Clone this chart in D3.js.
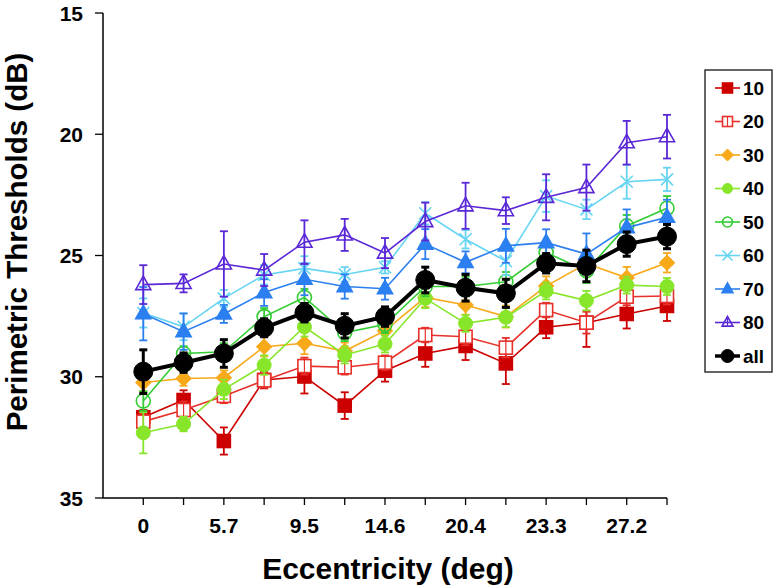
<!DOCTYPE html>
<html><head><meta charset="utf-8">
<script src="https://cdn.jsdelivr.net/npm/d3@7"></script>
<style>body{margin:0;background:#fff}svg{display:block}</style>
</head><body>
<svg id="c" width="776" height="587"></svg>
<script>
const xLabels = ["0","","5.7","","9.5","","14.6","","20.4","","23.3","","27.2",""];
const yTicks = [15,20,25,30,35];
const seriesNames = ["10","20","30","40","50","60","70","80","all"];
const s10  = [31.67,30.96,32.65,30.13,29.99,31.19,29.75,29.04,28.73,29.45,27.96,27.77,27.41,27.08];
const e10  = [0.3,0.4,0.56,0.35,0.7,0.55,0.45,0.55,0.58,0.85,0.45,1.0,0.6,0.62];
const s20  = [31.85,31.37,30.79,30.15,29.56,29.61,29.42,28.28,28.35,28.8,27.25,27.77,26.7,26.67];
const e20  = [0.35,0.35,0.3,0.3,0.35,0.3,0.3,0.3,0.35,0.4,0.3,0.45,0.35,0.35];
const s30  = [30.24,30.07,30.04,28.76,28.62,28.94,28.1,26.73,27.04,27.52,26.26,25.33,25.92,25.3];
const e30  = [0.35,0.3,0.3,0.4,0.45,0.35,0.35,0.4,0.4,0.45,0.4,0.5,0.45,0.4];
const s40  = [32.31,31.95,30.52,29.52,27.94,29.1,28.65,26.77,27.8,27.55,26.46,26.86,26.22,26.28];
const e40  = [0.85,0.3,0.4,0.4,0.4,0.35,0.35,0.4,0.35,0.4,0.35,0.4,0.35,0.35];
const s50  = [31.0,29.04,28.97,27.52,26.73,28.18,27.85,26.28,26.28,26.08,24.88,25.63,23.78,23.05];
const e50  = [0.4,0.3,0.35,0.35,0.35,0.35,0.35,0.4,0.4,0.4,0.4,0.5,0.45,0.5];
const s60  = [27.37,27.94,26.77,25.8,25.53,25.78,25.49,23.26,24.33,25.23,22.55,23.1,21.96,21.86];
const e60  = [0.6,0.55,0.35,0.4,0.5,0.3,0.25,0.46,0.38,0.58,0.65,0.4,0.7,0.48];
const s70  = [27.4,28.14,27.41,26.53,25.98,26.28,26.37,24.53,25.28,24.6,24.47,24.94,23.85,23.42];
const e70  = [1.1,0.75,0.37,0.55,0.66,0.5,0.45,0.62,0.45,0.7,0.55,0.85,0.75,0.72];
const s80  = [26.2,26.15,25.35,25.6,24.45,24.15,24.9,23.6,22.95,23.15,22.6,22.2,20.35,20.1];
const e80  = [0.8,0.37,1.35,0.66,0.9,0.66,0.62,0.78,0.95,0.55,0.95,0.95,0.9,0.9];
const sAll = [29.79,29.42,29.04,27.98,27.36,27.9,27.52,26.01,26.33,26.56,25.32,25.43,24.53,24.22];
const eAll = [0.9,0.4,0.57,0.37,0.38,0.5,0.4,0.53,0.55,0.58,0.4,0.65,0.5,0.5];

const colors = ["#cc0000","#e8302a","#f7a91a","#88e62a","#33cc33","#66d4f2","#2b7ff0","#5a28d6","#000000"];
const shapes = ["square","squareOpen","diamond","circle","circleOpen","cross","triangle","triangleOpen","circleBig"];
const values = [s10,s20,s30,s40,s50,s60,s70,s80,sAll];
const errors = [e10,e20,e30,e40,e50,e60,e70,e80,eAll];

const FONT = "Arial,'Liberation Sans',Helvetica,sans-serif";
const svg = d3.select("#c");
const x = d3.scaleLinear().domain([0,14]).range([103,667]);
const y = d3.scaleLinear().domain([15,35]).range([13,498]);

// axes
const gx = svg.append("g").attr("transform","translate(0,498)");
gx.append("line").attr("x1",x(0)).attr("x2",x(14)).attr("stroke","#000").attr("stroke-width",1.5);
d3.range(1,15).forEach(i=>{
  gx.append("line").attr("x1",x(i)).attr("x2",x(i)).attr("y1",0).attr("y2",7).attr("stroke","#000").attr("stroke-width",1.3);
  if (xLabels[i-1]) gx.append("text").attr("x",x(i)).attr("y",35).attr("text-anchor","middle")
    .attr("font-family",FONT).attr("font-weight","bold").attr("font-size",21)
    .text(xLabels[i-1]);
});
const gy = svg.append("g").attr("transform","translate(103,0)");
gy.append("line").attr("y1",y(15)).attr("y2",y(35)).attr("stroke","#000").attr("stroke-width",1.5);
yTicks.forEach(t=>{
  gy.append("line").attr("x1",-8).attr("x2",0).attr("y1",y(t)).attr("y2",y(t)).attr("stroke","#000").attr("stroke-width",1.3);
  gy.append("text").attr("x",-20).attr("y",y(t)).attr("dy","0.36em").attr("text-anchor","end")
    .attr("font-family",FONT).attr("font-weight","bold").attr("font-size",21)
    .text(t);
});
svg.append("text").attr("transform","translate(27,242) rotate(-90)").attr("text-anchor","middle")
  .attr("font-family",FONT).attr("font-weight","bold").attr("font-size",29.5)
  .text("Perimetric Thresholds (dB)");
svg.append("text").attr("x",388).attr("y",579).attr("text-anchor","middle")
  .attr("font-family",FONT).attr("font-weight","bold").attr("font-size",30)
  .text("Eccentricity (deg)");

function drawMarker(g, shape, color, cx, cy, s) {
  const sw = 1.6;
  if (shape==="square" || shape==="squareOpen") {
    g.append("rect").attr("x",cx-s/2).attr("y",cy-s/2).attr("width",s).attr("height",s)
      .attr("fill", shape==="square"?color:"#fff").attr("stroke",color).attr("stroke-width",sw);
    if (shape==="squareOpen") g.append("line").attr("x1",cx).attr("x2",cx).attr("y1",cy-s/2).attr("y2",cy+s/2).attr("stroke",color).attr("stroke-width",1.2);
  } else if (shape==="diamond") {
    const r = s*0.6;
    g.append("path").attr("d",`M${cx},${cy-r}L${cx+r},${cy}L${cx},${cy+r}L${cx-r},${cy}Z`).attr("fill",color).attr("stroke",color);
  } else if (shape==="circle" || shape==="circleBig") {
    g.append("circle").attr("cx",cx).attr("cy",cy).attr("r",s/2).attr("fill",color).attr("stroke",color);
  } else if (shape==="circleOpen") {
    g.append("circle").attr("cx",cx).attr("cy",cy).attr("r",s/2).attr("fill","#fff").attr("fill-opacity",0).attr("stroke",color).attr("stroke-width",sw);
  } else if (shape==="cross") {
    const r = s/2;
    g.append("path").attr("d",`M${cx-r},${cy-r}L${cx+r},${cy+r}M${cx-r},${cy+r}L${cx+r},${cy-r}`).attr("stroke",color).attr("stroke-width",1.6);
  } else if (shape==="triangle" || shape==="triangleOpen") {
    const r = s*0.6;
    g.append("path").attr("d",`M${cx},${cy-r}L${cx+r*0.9},${cy+r*0.6}L${cx-r*0.9},${cy+r*0.6}Z`)
      .attr("fill", shape==="triangle"?color:"none").attr("stroke",color).attr("stroke-width",sw);
    if (shape==="triangleOpen") g.append("line").attr("x1",cx).attr("x2",cx).attr("y1",cy-r).attr("y2",cy+r*0.6).attr("stroke",color).attr("stroke-width",1.2);
  }
}
const markerSize = [13,13,13,14,14,12,14,14,19];

seriesNames.forEach((name,k)=>{
  const g = svg.append("g");
  const c = colors[k], isAll = name==="all";
  const vals = values[k], errs = errors[k];
  vals.forEach((v,i)=>{
    const cx = x(i+1), e = errs[i];
    g.append("line").attr("x1",cx).attr("x2",cx).attr("y1",y(v-e)).attr("y2",y(v+e)).attr("stroke",c).attr("stroke-width",isAll?3:1.8);
    [v-e,v+e].forEach(t=>g.append("line").attr("x1",cx-4).attr("x2",cx+4).attr("y1",y(t)).attr("y2",y(t)).attr("stroke",c).attr("stroke-width",isAll?3:1.8));
  });
  const line = d3.line().x((d,i)=>x(i+1)).y(d=>y(d));
  g.append("path").datum(vals).attr("d",line).attr("fill","none").attr("stroke",c).attr("stroke-width",isAll?4:1.6);
  vals.forEach((v,i)=>drawMarker(g, shapes[k], c, x(i+1), y(v), markerSize[k]));
});

// legend
const lg = svg.append("g");
lg.append("rect").attr("x",705).attr("y",70).attr("width",67).attr("height",302).attr("fill","#fff").attr("stroke","#333").attr("stroke-width",1.5);
seriesNames.forEach((name,k)=>{
  const ly = 88 + k*33.5;
  const c = colors[k];
  lg.append("line").attr("x1",715).attr("x2",740).attr("y1",ly).attr("y2",ly).attr("stroke",c).attr("stroke-width",name==="all"?3.5:1.6);
  drawMarker(lg, shapes[k], c, 727.5, ly, name==="all"?13:10);
  lg.append("text").attr("x",743).attr("y",ly).attr("dy","0.36em")
    .attr("font-family",FONT).attr("font-weight","bold").attr("font-size",19)
    .text(name);
});
</script>
</body></html>
